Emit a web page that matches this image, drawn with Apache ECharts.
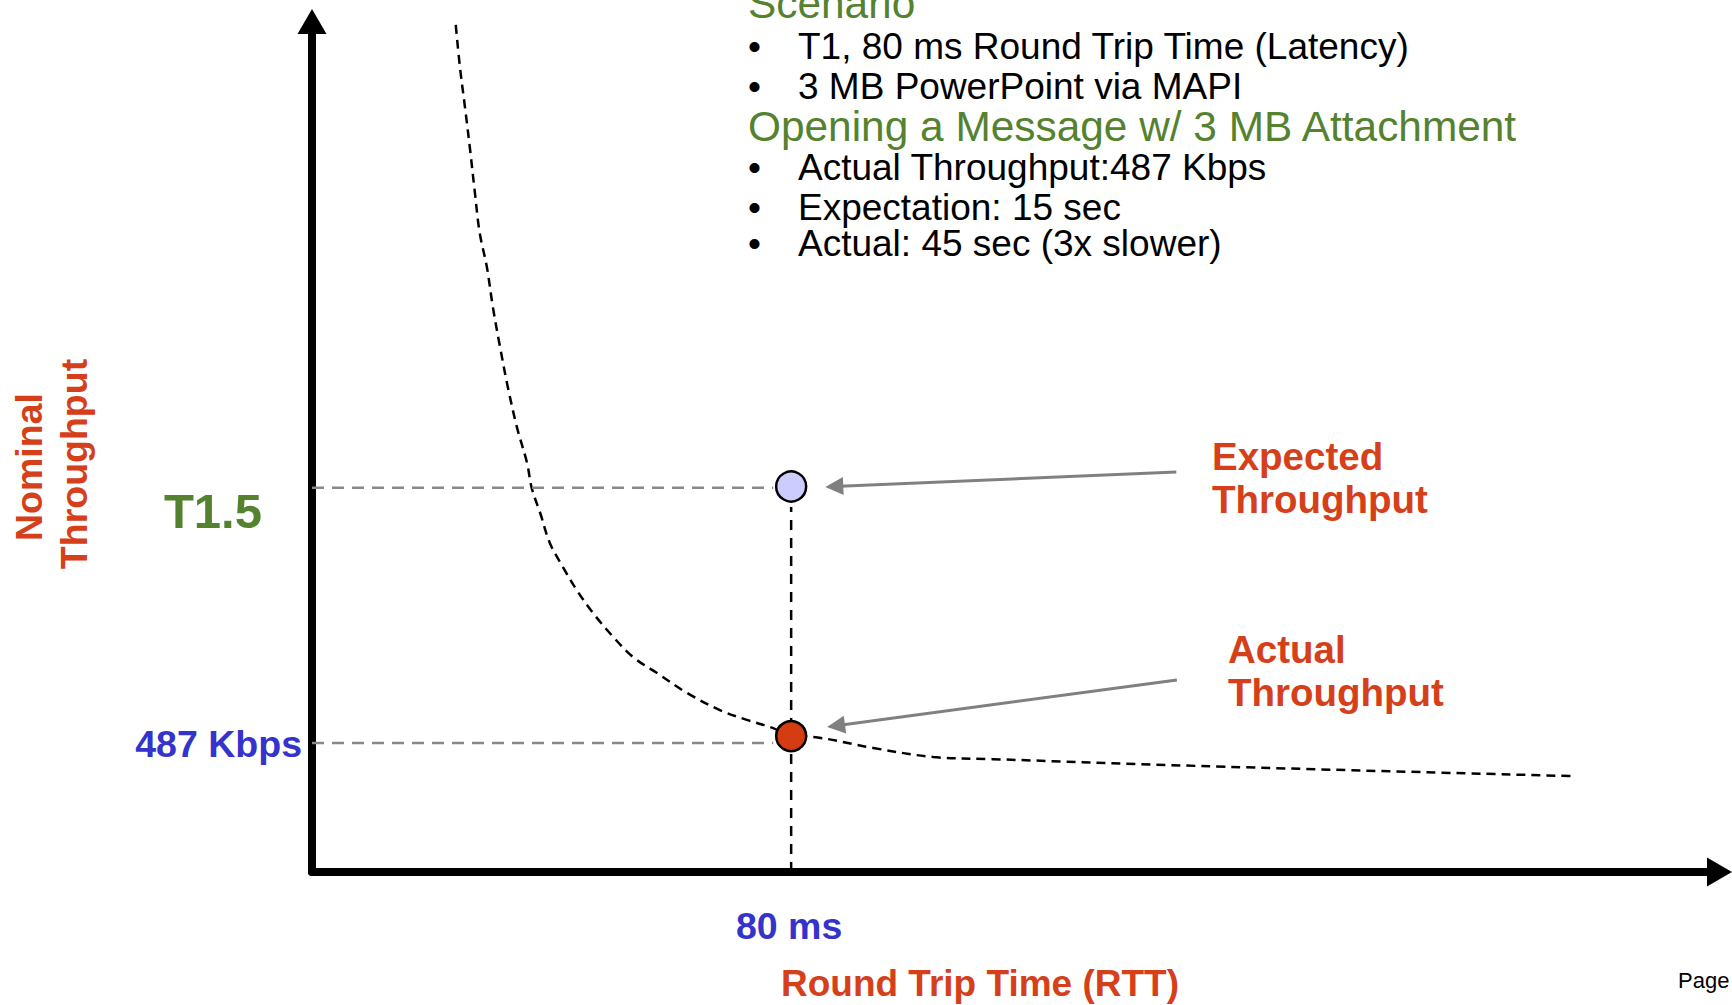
<!DOCTYPE html>
<html>
<head>
<meta charset="utf-8">
<script src="https://cdn.jsdelivr.net/npm/echarts@6/dist/echarts.min.js"></script>
<style>
html,body{margin:0;padding:0;background:#ffffff;}
#chart{width:1732px;height:1005px;}
</style>
</head>
<body>
<div id="chart"></div>
<script>
// ---------------- data ----------------
// throughput curve: RTT (ms) vs throughput (Kbps)
const curveRtt  = [24.0, 24.7, 25.6, 26.4, 27.2, 28.0, 29.2, 30.2, 31.4, 32.7, 34.2, 35.9, 36.7, 38.1, 39.7, 41.9, 44.2, 46.9, 50.3, 53.6, 57.6, 62.6, 68.1, 72.6, 77.0, 79.8, 83.5, 93.7, 103.7, 113.7, 148.3, 210.4];
const curveKbps = [3197, 3038, 2876, 2725, 2563, 2412, 2283, 2132, 1981, 1830, 1680, 1544, 1448, 1355, 1242, 1151, 1064, 978, 887, 811, 751, 676, 611, 574, 543, 513, 510, 468, 434, 426, 400, 362];

const rttMark = 80;              // ms
const expectedKbps = 1455;       // expected throughput point
const actualKbps = 513;          // actual throughput point
const guideLevels = [1450, 487]; // horizontal reference levels (T1.5, 487 Kbps)
const guideEndRtt = 77;
const verticalGuideTop = 1378;

const xMax = 235, yMax = 3210;

const yTickLabels = ['T1.5', '487 Kbps'];
const xTickLabels = ['80 ms'];
const xAxisName = 'Round Trip Time (RTT)';
const yAxisName = ['Nominal', 'Throughput'];

// annotation arrows: [start, end] in data units
const expectedArrow = [[144.3, 1510], [87.2, 1455]];
const actualArrow   = [[144.4, 725], [87.5, 552]];
const expectedLabel = ['Expected', 'Throughput'];
const actualLabel   = ['Actual', 'Throughput'];

const scenarioTitle = 'Scenario';
const scenarioItems = ['T1, 80 ms Round Trip Time (Latency)', '3 MB PowerPoint via MAPI'];
const openingTitle = 'Opening a Message w/ 3 MB Attachment';
const openingItems = ['Actual Throughput:487 Kbps', 'Expectation: 15 sec', 'Actual: 45 sec (3x slower)'];
const pageText = 'Page';

// ---------------- styles ----------------
const FONT = "'Liberation Sans', Arial, Helvetica, sans-serif";
const RED = '#d5401a', BLUE = '#3434cc', GREEN = '#54822f';

const chart = echarts.init(document.getElementById('chart'), null, {renderer: 'svg'});

const noAxisExtras = {
  axisTick: {show: false}, axisLabel: {show: false}, splitLine: {show: false}
};

chart.setOption({
  animation: false,
  backgroundColor: '#ffffff',
  grid: {left: 312, right: 12.5, top: 21.5, bottom: 133},
  xAxis: Object.assign({
    type: 'value', min: 0, max: xMax,
    axisLine: {show: true, onZero: false, symbol: ['none', 'triangle'], symbolSize: [29, 25],
      lineStyle: {color: '#000', width: 8, cap: 'round'}}
  }, noAxisExtras),
  yAxis: Object.assign({
    type: 'value', min: 0, max: yMax,
    axisLine: {show: true, onZero: false, symbol: ['none', 'triangle'], symbolSize: [29, 25],
      lineStyle: {color: '#000', width: 8, cap: 'round'}}
  }, noAxisExtras),
  series: [
    {
      type: 'line', name: 'curve', z: 2,
      data: curveRtt.map((x, i) => [x, curveKbps[i]]),
      smooth: 0.35, symbol: 'none', silent: true,
      lineStyle: {color: '#000', width: 2.5, type: [9, 6]}
    },
    {
      type: 'line', name: 'vguide', z: 2, symbol: 'none', silent: true,
      data: [[rttMark, 0], [rttMark, verticalGuideTop]],
      lineStyle: {color: '#000', width: 2.5, type: [10, 8]}
    },
    {
      type: 'line', name: 'hguide1', z: 2, symbol: 'none', silent: true,
      data: [[0, guideLevels[0]], [guideEndRtt, guideLevels[0]]],
      lineStyle: {color: '#888888', width: 2.5, type: [12, 8]}
    },
    {
      type: 'line', name: 'hguide2', z: 2, symbol: 'none', silent: true,
      data: [[0, guideLevels[1]], [guideEndRtt, guideLevels[1]]],
      lineStyle: {color: '#888888', width: 2.5, type: [12, 8]}
    },
    {
      type: 'scatter', name: 'points', z: 5, symbolSize: 30, silent: true,
      data: [
        {value: [rttMark, expectedKbps], itemStyle: {color: '#ccccff'}},
        {value: [rttMark, actualKbps], itemStyle: {color: '#d63c12'}}
      ],
      itemStyle: {borderColor: '#000', borderWidth: 2.5, opacity: 1},
      markLine: {
        silent: true, animation: false,
        symbol: ['none', 'triangle'], symbolSize: [18, 18],
        label: {show: false},
        lineStyle: {color: '#808080', width: 3, type: 'solid'},
        data: [
          [{coord: expectedArrow[0]}, {coord: expectedArrow[1]}],
          [{coord: actualArrow[0]}, {coord: actualArrow[1]}]
        ]
      }
    }
  ]
});

// ---------------- texts ----------------
function txt(text, x, y, o) {
  o = o || {};
  const size = o.size || 37;
  return {
    type: 'text', x: x, y: y, rotation: o.rotation || 0, silent: true, z: 100,
    style: {
      text: text, fill: o.color || '#000', fontFamily: FONT,
      fontSize: size, fontWeight: o.bold ? 'bold' : 'normal',
      lineHeight: Math.round(size * 0.9),
      align: o.align || 'left', verticalAlign: 'middle'
    }
  };
}

const g = [];
// scenario block
g.push(txt(scenarioTitle, 748, 3, {color: GREEN, size: 42.4}));
const scenY = [46, 86];
scenarioItems.forEach((s, i) => {
  g.push(txt('\u2022', 748, scenY[i], {size: 37}));
  g.push(txt(s, 798, scenY[i], {size: 37}));
});
g.push(txt(openingTitle, 748, 126, {color: GREEN, size: 42.4}));
const openY = [167, 207, 243];
openingItems.forEach((s, i) => {
  g.push(txt('\u2022', 748, openY[i], {size: 37}));
  g.push(txt(s, 798, openY[i], {size: 37}));
});

// data-anchored labels
const pT15 = chart.convertToPixel({gridIndex: 0}, [0, guideLevels[0]]);
const p487 = chart.convertToPixel({gridIndex: 0}, [0, guideLevels[1]]);
const p80  = chart.convertToPixel({gridIndex: 0}, [rttMark, 0]);
g.push(txt(yTickLabels[0], pT15[0] - 50, pT15[1] + 23, {color: GREEN, size: 49, bold: true, align: 'right'}));
g.push(txt(yTickLabels[1], p487[0] - 10, p487[1] + 1, {color: BLUE, size: 37.5, bold: true, align: 'right'}));
g.push(txt(xTickLabels[0], p80[0] - 2, p80[1] + 54, {color: BLUE, size: 37.5, bold: true, align: 'center'}));

// axis names
g.push(txt(xAxisName, 980, 983, {color: RED, size: 37, bold: true, align: 'center'}));
g.push(txt(yAxisName[0], 29, 467, {color: RED, size: 37.5, bold: true, align: 'center', rotation: Math.PI / 2}));
g.push(txt(yAxisName[1], 74, 464, {color: RED, size: 37.5, bold: true, align: 'center', rotation: Math.PI / 2}));

// annotation labels
g.push(txt(expectedLabel[0], 1212, 456, {color: RED, size: 38.5, bold: true}));
g.push(txt(expectedLabel[1], 1212, 499, {color: RED, size: 38.5, bold: true}));
g.push(txt(actualLabel[0], 1228, 649, {color: RED, size: 38.5, bold: true}));
g.push(txt(actualLabel[1], 1228, 692, {color: RED, size: 38.5, bold: true}));

g.push(txt(pageText, 1678, 980, {size: 22}));

chart.setOption({graphic: g});
</script>
</body>
</html>
